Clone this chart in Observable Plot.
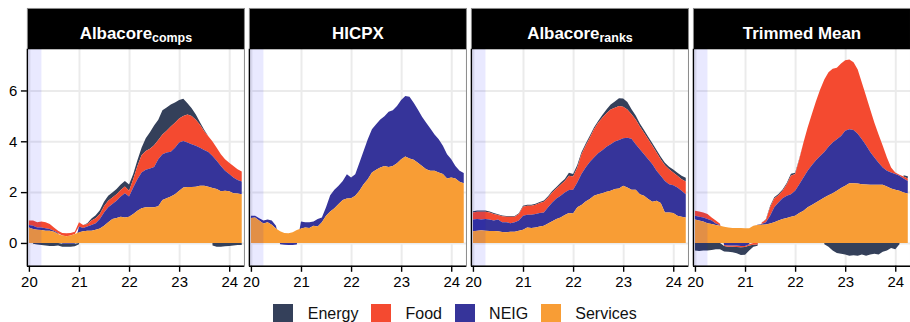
<!DOCTYPE html>
<html>
<head>
<meta charset="utf-8">
<script src="https://cdn.jsdelivr.net/npm/d3@7"></script>
<script src="https://cdn.jsdelivr.net/npm/@observablehq/plot@0.6"></script>
<style>
  body { margin: 0; background: #fff; overflow: hidden; font-family: "Liberation Sans", Arial, sans-serif; }
  #chart svg { display: block; }
  .legend { width: 910px; height: 24px; padding-top: 5px; display: flex; justify-content: center; align-items: center; font-size: 16px; color: #111; }
  .legend .item { display: flex; align-items: center; margin: 0 6.35px; }
  .legend .sw { width: 20px; height: 20px; margin-right: 14.4px; }
</style>
</head>
<body>
<div id="chart"></div>
<div class="legend" id="legend"></div>
<script>
// Panels (label "Main_sub" renders the part after "_" as a subscript)
const panels = ["Albacore_comps", "HICPX", "Albacore_ranks", "Trimmed Mean"];
const seriesNames = ["Energy", "Food", "NEIG", "Services"];
const seriesColors = ["#34405a", "#f44a30", "#36349a", "#f89d35"];
const stackOrder = ["Services", "NEIG", "Food", "Energy"];
const xTicks = [20, 21, 22, 23, 24];
const yTicks = [0, 2, 4, 6];
const bandEnd = 20.25;

// Monthly observations, Jan 2020 to Apr 2024 (year as two-digit decimal)
const dates = d3.range(52).map(i => 20 + i / 12);

// Albacore (components)
const compsEnergy = [0, -0.03, -0.06, -0.08, -0.1, -0.12, -0.12, -0.1, -0.12, -0.12, -0.12, -0.1,
  -0.05, 0, 0.03, 0.08, 0.12, 0.15, 0.18, 0.2, 0.2, 0.2, 0.22, 0.22,
  0.25, 0.2, 0.22, 0.3, 0.5, 0.65, 0.78, 0.8, 0.95, 0.92, 0.87, 0.8,
  0.72, 0.67, 0.45, 0.3, 0.2, 0.1, 0.05, 0, -0.1, -0.15, -0.15, -0.13,
  -0.12, -0.1, -0.08, -0.08];
const compsFood = [0.17, 0.2, 0.2, 0.23, 0.23, 0.2, 0.13, 0.1, 0.1, 0.12, 0.1, 0.09,
  0.16, 0.12, 0.1, 0.17, 0.19, 0.2, 0.24, 0.26, 0.26, 0.26, 0.25, 0.26,
  0.22, 0.33, 0.52, 0.68, 0.74, 0.78, 0.85, 0.76, 0.78, 0.85, 0.99, 0.98,
  0.95, 0.99, 1.1, 1.12, 1.03, 0.9, 0.74, 0.62, 0.57, 0.52, 0.46, 0.45,
  0.45, 0.45, 0.42, 0.39];
const compsNeig = [0.1, 0.13, 0.09, 0.1, 0.1, 0.07, 0.04, 0.03, -0.03, -0.03, -0.03, -0.03,
  0.23, 0.13, 0.17, 0.23, 0.26, 0.37, 0.52, 0.59, 0.59, 0.68, 0.8, 0.96,
  0.8, 1.04, 1.24, 1.4, 1.48, 1.53, 1.59, 1.85, 1.8, 1.8, 1.76, 1.83,
  1.9, 1.83, 1.75, 1.68, 1.61, 1.5, 1.41, 1.37, 1.26, 1.11, 1.0, 0.79,
  0.68, 0.62, 0.53, 0.5];
const compsServices = [0.61, 0.55, 0.52, 0.51, 0.48, 0.48, 0.44, 0.35, 0.29, 0.26, 0.29, 0.35,
  0.42, 0.46, 0.48, 0.48, 0.52, 0.57, 0.68, 0.81, 0.94, 0.98, 1.03, 1.0,
  1.03, 1.14, 1.27, 1.37, 1.4, 1.4, 1.4, 1.44, 1.69, 1.76, 1.83, 1.92,
  2.05, 2.18, 2.2, 2.2, 2.21, 2.25, 2.25, 2.21, 2.16, 2.12, 2.03, 2.05,
  2.03, 1.96, 1.95, 1.92];

// HICPX
const hicpxNeig = [0.09, 0.07, 0.09, 0.11, 0.11, 0.16, 0.11, -0.05, -0.07, -0.08, -0.08, -0.06,
  0.27, 0.2, 0.22, 0.16, 0.29, 0.19, 0.33, 0.64, 0.72, 0.72, 0.75, 0.95,
  0.82, 0.84, 1.11, 1.31, 1.57, 1.7, 1.79, 1.89, 1.96, 2.17, 2.19, 2.25,
  2.33, 2.38, 2.43, 2.25, 2.09, 1.94, 1.83, 1.66, 1.43, 1.31, 1.11, 0.95,
  0.71, 0.49, 0.43, 0.4];
const hicpxServices = [0.98, 1.0, 0.88, 0.77, 0.81, 0.72, 0.57, 0.46, 0.39, 0.38, 0.42, 0.51,
  0.57, 0.61, 0.59, 0.68, 0.65, 0.81, 1.07, 1.24, 1.37, 1.53, 1.69, 1.75,
  1.76, 1.86, 2.05, 2.31, 2.51, 2.77, 2.88, 2.97, 3.03, 2.99, 3.03, 3.14,
  3.29, 3.4, 3.32, 3.27, 3.16, 3.03, 2.9, 2.84, 2.84, 2.77, 2.71, 2.54,
  2.58, 2.54, 2.41, 2.35];

// Albacore (ranks)
const ranksEnergy = [0.05, 0.05, 0.05, 0.05, 0.04, 0.04, 0.03, 0.03, 0.03, 0.03, 0.03, 0.03,
  0.04, 0.04, 0.04, 0.04, 0.04, 0.05, 0.05, 0.05, 0.06, 0.08, 0.08, 0.12,
  0.1, 0.1, 0.08, 0.08, 0.08, 0.07, 0.07, 0.1, 0.15, 0.2, 0.25, 0.3,
  0.32, 0.3, 0.2, 0.15, 0.12, 0.1, 0.1, 0.1, 0.1, 0.1, 0.1, 0.1,
  0.12, 0.12, 0.13, 0.15];
const ranksFood = [0.28, 0.29, 0.31, 0.29, 0.28, 0.26, 0.18, 0.24, 0.22, 0.25, 0.22, 0.26,
  0.35, 0.35, 0.35, 0.36, 0.39, 0.42, 0.39, 0.4, 0.39, 0.43, 0.45, 0.56,
  0.52, 0.59, 0.78, 0.85, 0.95, 1.11, 1.2, 1.28, 1.31, 1.37, 1.33, 1.34,
  1.24, 1.11, 0.96, 0.98, 0.89, 0.85, 0.79, 0.72, 0.72, 0.65, 0.62, 0.59,
  0.5, 0.46, 0.46, 0.5];
const ranksNeig = [0.46, 0.46, 0.42, 0.46, 0.45, 0.41, 0.46, 0.38, 0.39, 0.34, 0.37, 0.4,
  0.55, 0.5, 0.52, 0.53, 0.53, 0.52, 0.63, 0.74, 0.81, 0.86, 0.89, 0.9,
  0.93, 0.98, 1.22, 1.34, 1.46, 1.5, 1.61, 1.69, 1.78, 1.83, 1.87, 1.91,
  1.87, 1.96, 2.01, 1.79, 1.77, 1.63, 1.56, 1.48, 1.18, 1.07, 1.24, 1.11,
  1.09, 1.11, 1.02, 0.92];
const ranksServices = [0.46, 0.48, 0.5, 0.48, 0.47, 0.47, 0.46, 0.43, 0.42, 0.44, 0.44, 0.48,
  0.52, 0.61, 0.59, 0.61, 0.65, 0.68, 0.77, 0.85, 0.94, 1.0, 1.1, 1.18,
  1.16, 1.4, 1.49, 1.63, 1.73, 1.86, 1.92, 1.96, 2.01, 2.05, 2.12, 2.14,
  2.25, 2.18, 2.09, 2.09, 1.92, 1.86, 1.73, 1.62, 1.66, 1.57, 1.2, 1.2,
  1.18, 1.07, 1.03, 1.0];

// Trimmed mean
const trimEnergy = [-0.3, -0.32, -0.3, -0.3, -0.28, -0.25, -0.25, -0.22, -0.2, -0.22, -0.25, -0.3,
  -0.3, -0.2, -0.08, -0.05, 0, 0.02, 0.05, 0.05, 0.05, 0.05, 0.05, 0.08,
  0.05, 0.03, 0, 0, 0, 0, 0, -0.05, -0.15, -0.3, -0.4, -0.42,
  -0.45, -0.5, -0.48, -0.5, -0.45, -0.5, -0.45, -0.42, -0.45, -0.35, -0.3, -0.2,
  -0.25, -0.05, 0.05, 0.08];
const trimFood = [0.2, 0.21, 0.2, 0.2, 0.12, 0.11, 0.06, -0.04, -0.05, -0.05, -0.06, -0.05,
  -0.04, -0.05, -0.07, -0.06, 0.05, 0.1, 0.33, 0.35, 0.29, 0.29, 0.45, 0.72,
  0.66, 0.98, 1.37, 1.7, 2.0, 2.33, 2.62, 2.85, 2.93, 2.9, 2.81, 2.85,
  2.78, 2.75, 2.67, 2.52, 2.22, 1.94, 1.67, 1.37, 1.11, 0.85, 0.52, 0.2,
  0.06, 0.04, 0.07, 0.1];
const trimNeig = [0.15, 0.15, 0.16, 0.16, 0.13, 0.06, 0.02, -0.08, -0.1, -0.1, -0.1, -0.12,
  -0.12, -0.05, 0, 0.01, 0.03, 0.08, 0.3, 0.59, 0.71, 0.82, 0.88, 0.89,
  0.98, 1.13, 1.31, 1.44, 1.57, 1.66, 1.73, 1.79, 1.91, 1.99, 2.03, 2.05,
  2.16, 2.12, 2.09, 1.96, 1.77, 1.54, 1.29, 1.07, 0.87, 0.68, 0.62, 0.63,
  0.62, 0.59, 0.55, 0.49];
const trimServices = [0.92, 0.88, 0.84, 0.78, 0.75, 0.71, 0.68, 0.64, 0.61, 0.59, 0.59, 0.59,
  0.58, 0.58, 0.68, 0.71, 0.72, 0.73, 0.77, 0.81, 0.88, 0.94, 0.98, 1.03,
  1.07, 1.18, 1.27, 1.4, 1.49, 1.59, 1.69, 1.79, 1.88, 1.96, 2.05, 2.16,
  2.25, 2.35, 2.35, 2.34, 2.31, 2.3, 2.29, 2.29, 2.29, 2.29, 2.22, 2.14,
  2.09, 2.05, 1.99, 1.95];

// Long-format table for the stacked areas
const seriesByPanel = [
  ["Albacore_comps", {Energy: compsEnergy, Food: compsFood, NEIG: compsNeig, Services: compsServices}],
  ["HICPX", {NEIG: hicpxNeig, Services: hicpxServices}],
  ["Albacore_ranks", {Energy: ranksEnergy, Food: ranksFood, NEIG: ranksNeig, Services: ranksServices}],
  ["Trimmed Mean", {Energy: trimEnergy, Food: trimFood, NEIG: trimNeig, Services: trimServices}]
];
const rows = [];
for (const [panel, byName] of seriesByPanel) {
  for (const [series, values] of Object.entries(byName)) {
    values.forEach((value, i) => rows.push({panel, series, t: dates[i], value}));
  }
}

// Layout
const W = 914, H = 298, mL = 27, mT = 49, mB = 31;
const panelH = H - mT - mB;
const stripH = 41;
const xDomain = [19.96, 24.294];
const yDomain = [-0.9, 7.64];
const gridStyle = {stroke: "#ebebeb", strokeOpacity: 1, strokeWidth: 2};

const chart = Plot.plot({
  width: W,
  height: H,
  marginLeft: mL,
  marginRight: 0,
  marginTop: mT,
  marginBottom: mB,
  style: {fontFamily: "Liberation Sans, Arial, sans-serif", fontSize: "15px", color: "black", background: "white"},
  fx: {domain: panels, axis: null, label: null, paddingInner: 5 / 223, paddingOuter: 0},
  x: {domain: xDomain, label: null},
  y: {domain: yDomain, label: null},
  color: {domain: seriesNames, range: seriesColors},
  marks: [
    Plot.gridX(xTicks, gridStyle),
    Plot.gridY(yTicks, gridStyle),
    Plot.areaY(rows, {x: "t", y: "value", z: "series", fill: "series", fx: "panel", order: stackOrder}),
    // shaded period at the start of the sample
    Plot.rect([bandEnd], {x1: xDomain[0], x2: d => d, y1: yDomain[0], y2: yDomain[1], fill: "#0000ff", fillOpacity: 0.085}),
    // facet strips
    Plot.frame({fill: "black", stroke: "none", insetTop: -stripH, insetBottom: panelH}),
    Plot.frame({stroke: "#8a8a8a", strokeWidth: 1, insetTop: -stripH}),
    Plot.ruleX([xDomain[0]], {stroke: "black", strokeWidth: 1.4}),
    Plot.ruleY([yDomain[0]], {stroke: "black", strokeWidth: 1.4}),
    Plot.text(panels, {fx: d => d, text: d => d, frameAnchor: "top", dy: -22.5, fill: "white", fontWeight: "bold", fontSize: 17}),
    Plot.axisY({ticks: yTicks, facetAnchor: "left", tickSize: 6, tickPadding: 4, fontSize: 15, color: "black", strokeWidth: 1.4, label: null}),
    Plot.axisX({ticks: xTicks, facetAnchor: "bottom", tickSize: 6, tickPadding: 4, fontSize: 15, color: "black", strokeWidth: 1.4, tickFormat: d => String(d), label: null})
  ]
});

// Strip labels with subscripts
d3.select(chart).selectAll("text").each(function () {
  const s = this.textContent;
  if (panels.includes(s) && s.includes("_")) {
    const [main, sub] = s.split("_");
    const t = d3.select(this);
    t.text(null);
    t.append("tspan").text(main);
    t.append("tspan").attr("dy", 3.5).attr("font-size", 12.5).text(sub);
  }
});

document.getElementById("chart").appendChild(chart);

// Legend
const legend = d3.select("#legend");
seriesNames.forEach((name, i) => {
  const item = legend.append("div").attr("class", "item");
  item.append("div").attr("class", "sw").style("background", seriesColors[i]);
  item.append("span").text(name);
});
</script>
</body>
</html>
